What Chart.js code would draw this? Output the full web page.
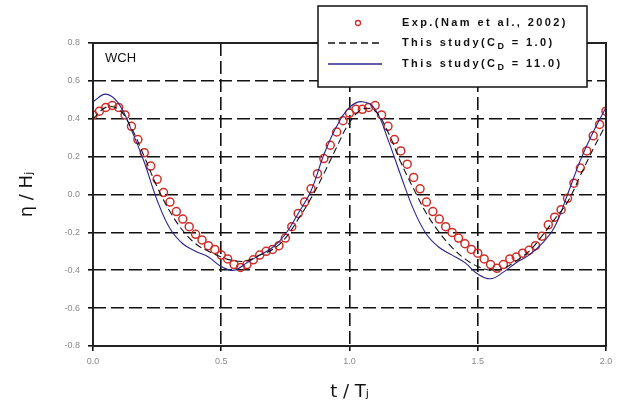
<!DOCTYPE html>
<html lang="en">
<head>
  <meta charset="UTF-8">
  <title>WCH surface elevation</title>
  <script src="https://cdn.jsdelivr.net/npm/chart.js"></script>
  <style>
    html, body { margin: 0; padding: 0; background: #fff; }
    #wrap { width: 621px; height: 407px; position: relative; }
  </style>
</head>
<body>
  <div id="wrap"><canvas id="etaChart"></canvas></div>

  <script>
    // measured elevation (circles)
    const expT = [0, 0.025, 0.05, 0.075, 0.1, 0.125, 0.15, 0.175, 0.2, 0.225, 0.25, 0.275, 0.3, 0.325, 0.35, 0.375,
      0.4, 0.425, 0.45, 0.475, 0.5, 0.525, 0.55, 0.575, 0.6, 0.625, 0.65, 0.675, 0.7, 0.725, 0.75, 0.775,
      0.8, 0.825, 0.85, 0.875, 0.9, 0.925, 0.95, 0.975, 1.0, 1.025, 1.05, 1.075, 1.1, 1.125, 1.15, 1.175,
      1.2, 1.225, 1.25, 1.275, 1.3, 1.325, 1.35, 1.375, 1.4, 1.425, 1.45, 1.475, 1.5, 1.525, 1.55, 1.575,
      1.6, 1.625, 1.65, 1.675, 1.7, 1.725, 1.75, 1.775, 1.8, 1.825, 1.85, 1.875, 1.9, 1.925, 1.95, 1.975, 2.0];
    const expEta = [0.42, 0.44, 0.46, 0.47, 0.46, 0.42, 0.36, 0.29, 0.22, 0.15, 0.08, 0.01, -0.04, -0.09, -0.13, -0.17,
      -0.21, -0.24, -0.27, -0.29, -0.32, -0.34, -0.37, -0.385, -0.37, -0.345, -0.32, -0.30, -0.29, -0.27, -0.23, -0.17,
      -0.10, -0.04, 0.03, 0.11, 0.19, 0.26, 0.33, 0.39, 0.43, 0.45, 0.45, 0.46, 0.47, 0.42, 0.36, 0.29,
      0.23, 0.16, 0.09, 0.03, -0.04, -0.09, -0.13, -0.17, -0.20, -0.23, -0.26, -0.29, -0.31, -0.34, -0.37, -0.39,
      -0.37, -0.34, -0.33, -0.31, -0.295, -0.27, -0.22, -0.16, -0.12, -0.08, -0.02, 0.06, 0.14, 0.23, 0.31, 0.37, 0.44];

    // computed series share the same time axis
    const simT = [0, 0.05, 0.1, 0.15, 0.2, 0.25, 0.3, 0.35, 0.4, 0.45, 0.5, 0.55, 0.6, 0.65, 0.7, 0.75, 0.8, 0.85, 0.9, 0.95,
      1.0, 1.05, 1.1, 1.15, 1.2, 1.25, 1.3, 1.35, 1.4, 1.45, 1.5, 1.55, 1.6, 1.65, 1.7, 1.75, 1.8, 1.85, 1.9, 1.95, 2.0];
    const etaCd1 = [0.40, 0.46, 0.45, 0.35, 0.20, 0.04, -0.09, -0.19, -0.26, -0.30, -0.33, -0.35, -0.35, -0.32, -0.29, -0.23,
      -0.13, -0.02, 0.11, 0.25, 0.38, 0.45, 0.44, 0.33, 0.17, 0.03, -0.10, -0.20, -0.28, -0.34, -0.38, -0.40, -0.39, -0.35,
      -0.30, -0.22, -0.13, -0.04, 0.10, 0.24, 0.37];
    const etaCd11 = [0.49, 0.53, 0.48, 0.34, 0.17, -0.03, -0.18, -0.26, -0.30, -0.33, -0.38, -0.40, -0.36, -0.32, -0.28, -0.21,
      -0.10, 0.02, 0.21, 0.36, 0.46, 0.49, 0.45, 0.29, 0.10, -0.08, -0.21, -0.28, -0.32, -0.36, -0.42, -0.445, -0.41, -0.36,
      -0.32, -0.26, -0.17, 0.00, 0.18, 0.33, 0.46];

    const xTicks = [0, 0.5, 1.0, 1.5, 2.0];
    const yTicks = [-0.8, -0.6, -0.4, -0.2, 0.0, 0.2, 0.4, 0.6, 0.8];

    const pairs = (xs, ys) => xs.map((x, i) => ({ x: x, y: ys[i] }));

    // solid frame round the plot + "WCH" tag
    const framePlugin = {
      id: 'frame',
      afterDatasetsDraw(chart) {
        const { ctx, chartArea: a } = chart;
        ctx.save();
        ctx.strokeStyle = '#222';
        ctx.lineWidth = 2;
        ctx.strokeRect(a.left, a.top, a.right - a.left, a.bottom - a.top);
        ctx.fillStyle = '#111';
        ctx.font = '13px "Liberation Sans", Arial, sans-serif';
        ctx.textBaseline = 'middle';
        ctx.fillText('WCH', a.left + 12, a.top + 15);
        ctx.restore();
      }
    };

    // boxed legend that sits over the top edge of the plot
    const boxLegend = {
      id: 'boxLegend',
      afterDraw(chart) {
        const { ctx } = chart;
        const box = { x: 318, y: 6, w: 269, h: 81 };
        const rows = [23, 43, 64];
        ctx.save();
        ctx.fillStyle = '#fff';
        ctx.fillRect(box.x, box.y, box.w, box.h);
        ctx.strokeStyle = '#111';
        ctx.lineWidth = 1.5;
        ctx.strokeRect(box.x, box.y, box.w, box.h);

        chart.data.datasets.forEach((ds, i) => {
          const y = rows[i];
          if (ds.showLine === false) {
            ctx.beginPath();
            ctx.arc(358, y, 2.5, 0, Math.PI * 2);
            ctx.strokeStyle = ds.borderColor;
            ctx.lineWidth = 1.3;
            ctx.stroke();
          } else {
            ctx.beginPath();
            ctx.setLineDash(ds.borderDash || []);
            ctx.strokeStyle = ds.borderColor;
            ctx.lineWidth = 1.4;
            ctx.moveTo(328, y);
            ctx.lineTo(382, y);
            ctx.stroke();
            ctx.setLineDash([]);
          }
          // label text, "_X" marks a subscript letter
          const parts = ds.label.split(/_(\w)/);
          let x = 402;
          ctx.fillStyle = '#111';
          ctx.textBaseline = 'middle';
          ctx.letterSpacing = '2.4px';
          parts.forEach((p, k) => {
            const sub = k % 2 === 1;
            ctx.font = (sub ? 'bold 9px' : 'bold 11px') + ' "Liberation Sans", Arial, sans-serif';
            ctx.fillText(p, x, sub ? y + 4 : y);
            x += ctx.measureText(p).width;
          });
          ctx.letterSpacing = '0px';
        });
        ctx.restore();
      }
    };

    const gridColor = (edgeMin, edgeMax) => (c) =>
      (c.tick.value <= edgeMin + 1e-9 || c.tick.value >= edgeMax - 1e-9) ? 'rgba(0,0,0,0)' : '#111';

    const tickFont = { family: '"Liberation Sans", Arial, sans-serif', size: 9 };
    const titleFont = { family: '"DejaVu Sans", "Liberation Sans", sans-serif', size: 18 };

    new Chart(document.getElementById('etaChart'), {
      type: 'scatter',
      data: {
        datasets: [
          {
            label: 'Exp.(Nam et al., 2002)',
            data: pairs(expT, expEta),
            showLine: false,
            borderColor: '#cc2f2a',
            backgroundColor: 'rgba(0,0,0,0)',
            pointRadius: 4,
            pointBorderWidth: 1.5,
            order: 3
          },
          {
            label: 'This study(C_D = 1.0)',
            data: pairs(simT, etaCd1),
            showLine: true,
            borderColor: '#111',
            borderWidth: 1.1,
            borderDash: [7, 4],
            pointRadius: 0,
            tension: 0.4,
            order: 1
          },
          {
            label: 'This study(C_D = 11.0)',
            data: pairs(simT, etaCd11),
            showLine: true,
            borderColor: '#28248c',
            borderWidth: 1.1,
            pointRadius: 0,
            tension: 0.4,
            order: 2
          }
        ]
      },
      options: {
        responsive: true,
        maintainAspectRatio: false,
        animation: false,
        layout: { padding: { top: 43, right: 15, left: 0, bottom: 0 } },
        plugins: {
          legend: { display: false },
          tooltip: { enabled: false }
        },
        scales: {
          x: {
            type: 'linear',
            min: 0,
            max: 2,
            afterFit: (s) => { s.height = 61; },
            afterBuildTicks: (s) => { s.ticks = xTicks.map(v => ({ value: v })); },
            ticks: {
              color: '#8a8a8a',
              font: tickFont,
              padding: 5,
              maxRotation: 0,
              callback: (v) => Number(v).toFixed(1)
            },
            grid: {
              color: gridColor(0, 2),
              lineWidth: 1.6,
              tickLength: 5,
              tickColor: '#111',
              tickWidth: 1.6,
              tickBorderDash: []
            },
            border: { display: false, dash: [13, 5] },
            title: {
              display: true,
              text: 't / Tⱼ',
              color: '#111',
              font: titleFont,
              padding: { top: 0, bottom: 4 }
            }
          },
          y: {
            min: -0.8,
            max: 0.8,
            afterFit: (s) => { s.width = 93; },
            afterBuildTicks: (s) => { s.ticks = yTicks.map(v => ({ value: v })); },
            ticks: {
              color: '#8a8a8a',
              font: tickFont,
              padding: 8,
              callback: (v) => Number(v).toFixed(1)
            },
            grid: {
              color: gridColor(-0.8, 0.8),
              lineWidth: 1.6,
              tickLength: 5,
              tickColor: '#111',
              tickWidth: 1.6,
              tickBorderDash: []
            },
            border: { display: false, dash: [13, 5] },
            title: {
              display: true,
              text: 'η / Hⱼ',
              color: '#111',
              font: titleFont,
              padding: { top: 17, bottom: 0 }
            }
          }
        }
      },
      plugins: [framePlugin, boxLegend]
    });
  </script>
</body>
</html>
